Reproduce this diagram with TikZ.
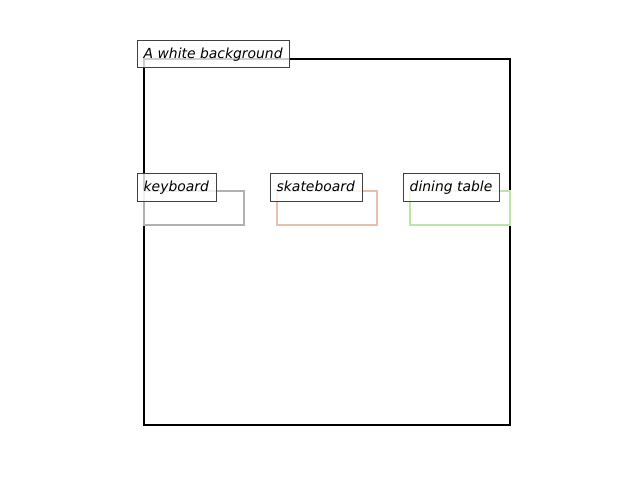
\documentclass[tikz,border=0pt]{standalone}
\usepackage{fontspec}
\setmainfont{DejaVu Sans}
\begin{document}
\begin{tikzpicture}[x=1pt,y=-1pt,
  lbl/.style={draw=black!75,line width=0.9pt,fill=white,fill opacity=0.8},
  lbltext/.style={anchor=base west,inner sep=0pt,font=\fontsize{13.9}{16}\selectfont\itshape},
  region/.style={line width=2pt}]
\useasboundingbox (0,0) rectangle (640,480);
\definecolor{kbd}{RGB}{180,176,176}
\definecolor{skt}{RGB}{230,192,172}
\definecolor{dtb}{RGB}{192,228,165}
\draw[region,black] (144,59) rectangle (510,425);
\draw[region,kbd] (144,191) rectangle (244,225);
\draw[region,skt] (277,191) rectangle (377,225);
\draw[region,dtb] (410,191) rectangle (510,225);
\draw[lbl] (137,40) rectangle (289,67);
\node[lbltext] (bg) at (143.5,58.5) {A white background};
\draw[lbl] (137,173) rectangle (216,201);
\node[lbltext] (kb) at (143.5,191.5) {keyboard};
\draw[lbl] (270,173) rectangle (362,201);
\node[lbltext] (sk) at (276.5,191.5) {skateboard};
\draw[lbl] (403,173) rectangle (499,201);
\node[lbltext] (dt) at (409.5,191.5) {dining table};
\end{tikzpicture}
\end{document}
